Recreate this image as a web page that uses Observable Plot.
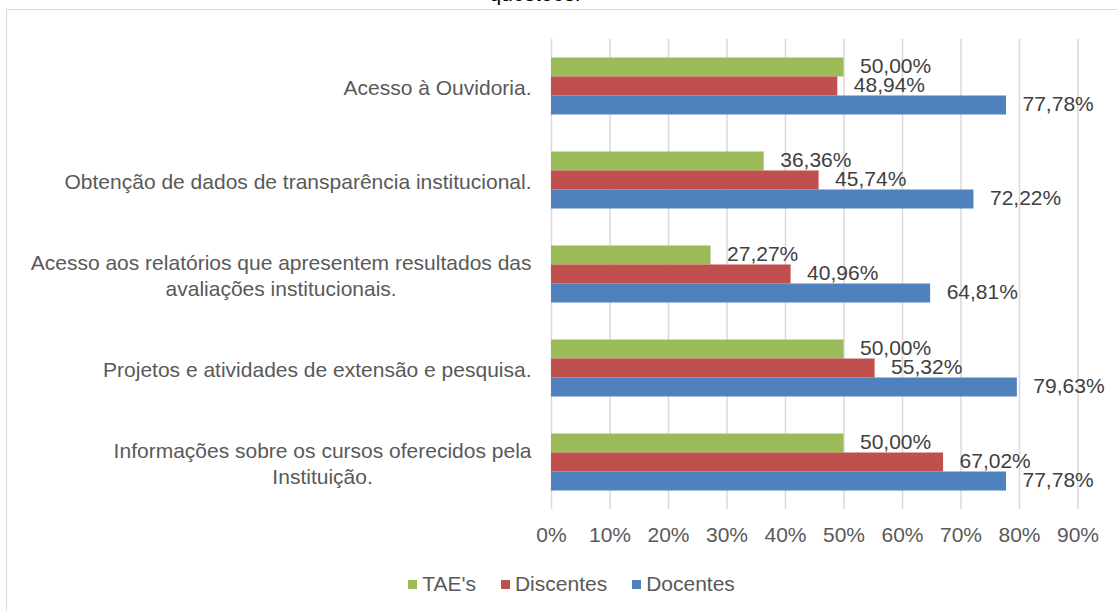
<!DOCTYPE html>
<html>
<head>
<meta charset="utf-8">
<script src="https://cdn.jsdelivr.net/npm/d3@7"></script>
<script src="https://cdn.jsdelivr.net/npm/@observablehq/plot@0.6"></script>
<style>
  html, body { margin: 0; padding: 0; background: #fff; }
  body { width: 1117px; height: 611px; overflow: hidden; position: relative; font-family: "Liberation Sans", Arial, sans-serif; }
  #frame { position: absolute; left: 6px; top: 9px; width: 1200px; height: 700px; border: 1.5px solid #d9d9d9; box-sizing: border-box; }
  #title { position: absolute; left: 0; width: 1070px; top: -18px; text-align: center; font-size: 21px; color: #000; }
  #chart { position: absolute; left: 0; top: 0; }
  #legend { position: absolute; top: 572px; left: 0; width: 1117px; padding-left: 26px; display: flex; justify-content: center; gap: 25px; font-size: 21px; color: #595959; box-sizing: border-box; }
  #legend .item { display: flex; align-items: center; }
  #legend .sw { width: 9px; height: 9px; margin-right: 5px; display: inline-block; }
</style>
</head>
<body>
<div id="frame"></div>
<div id="title">questões.</div>
<div id="chart"></div>
<div id="legend"></div>
<script>
const categories = [
  "Acesso à Ouvidoria.",
  "Obtenção de dados de transparência institucional.",
  "Acesso aos relatórios que apresentem resultados das avaliações institucionais.",
  "Projetos e atividades de extensão e pesquisa.",
  "Informações sobre os cursos oferecidos pela Instituição."
];
const categoryLabels = [
  "Acesso à Ouvidoria.",
  "Obtenção de dados de transparência institucional.",
  "Acesso aos relatórios que apresentem resultados das\navaliações institucionais.",
  "Projetos e atividades de extensão e pesquisa.",
  "Informações sobre os cursos oferecidos pela\nInstituição."
];
const seriesNames = ["TAE's", "Discentes", "Docentes"];
const seriesColors = ["#9bbb59", "#c0504d", "#4f81bd"];
const taes      = [0.5000, 0.3636, 0.2727, 0.5000, 0.5000];
const discentes = [0.4894, 0.4574, 0.4096, 0.5532, 0.6702];
const docentes  = [0.7778, 0.7222, 0.6481, 0.7963, 0.7778];
const xTicks = [0, 0.1, 0.2, 0.3, 0.4, 0.5, 0.6, 0.7, 0.8, 0.9];

const seriesValues = [taes, discentes, docentes];
const data = [];
categories.forEach((c, i) => {
  seriesNames.forEach((s, j) => data.push({category: c, series: s, value: seriesValues[j][i]}));
});
const labelOf = new Map(categories.map((c, i) => [c, categoryLabels[i]]));
const fmt = v => (v * 100).toFixed(2).replace(".", ",") + "%";

const plot = Plot.plot({
  width: 1117,
  height: 560,
  marginLeft: 551,
  marginRight: 39.5,
  marginTop: 40,
  marginBottom: 52,
  style: { fontFamily: "'Liberation Sans', Arial, sans-serif", fontSize: "21px", background: "transparent", overflow: "visible" },
  x: { domain: [0, 0.9], axis: null },
  y: { domain: seriesNames, padding: 0, axis: null, round: false },
  fy: { domain: categories, paddingInner: 0.3936, paddingOuter: 0.186, round: false, axis: null },
  color: { domain: seriesNames, range: seriesColors },
  marks: [
    Plot.gridX(xTicks, { stroke: "#d9d9d9", strokeOpacity: 1, strokeWidth: 1.5, insetTop: -18.5, insetBottom: -18.5 }),
    Plot.barX(data, { fy: "category", y: "series", x: "value", fill: "series", inset: 0 }),
    Plot.text(data, { fy: "category", y: "series", x: "value", text: d => fmt(d.value), textAnchor: "start", dx: 16, dy: -1, fill: "#404040", fontSize: 21 }),
    Plot.axisX({ ticks: xTicks, tickFormat: d => Math.round(d * 100) + "%", tickSize: 0, tickPadding: 36, fill: "#595959", fontSize: 21, facetAnchor: "bottom", label: null }),
    Plot.axisFy({ anchor: "left", tickSize: 0, tickPadding: 20, tickFormat: d => labelOf.get(d), lineHeight: 1.25, fill: "#595959", fontSize: 21, label: null })
  ]
});
document.getElementById("chart").appendChild(plot);

// center-align the lines of multi-line category labels (as in the original)
plot.querySelectorAll('[aria-label="fy-axis tick label"] text').forEach(t => {
  const spans = t.querySelectorAll("tspan");
  if (spans.length > 1) {
    let maxW = 0;
    spans.forEach(s => { maxW = Math.max(maxW, s.getComputedTextLength()); });
    t.setAttribute("text-anchor", "middle");
    const tr = t.getAttribute("transform") || "";
    t.setAttribute("transform", tr + ` translate(${-maxW / 2},0)`);
  }
});

const legend = document.getElementById("legend");
seriesNames.forEach((s, j) => {
  const item = document.createElement("div");
  item.className = "item";
  const sw = document.createElement("span");
  sw.className = "sw";
  sw.style.background = seriesColors[j];
  item.appendChild(sw);
  item.appendChild(document.createTextNode(s));
  legend.appendChild(item);
});
</script>
</body>
</html>
